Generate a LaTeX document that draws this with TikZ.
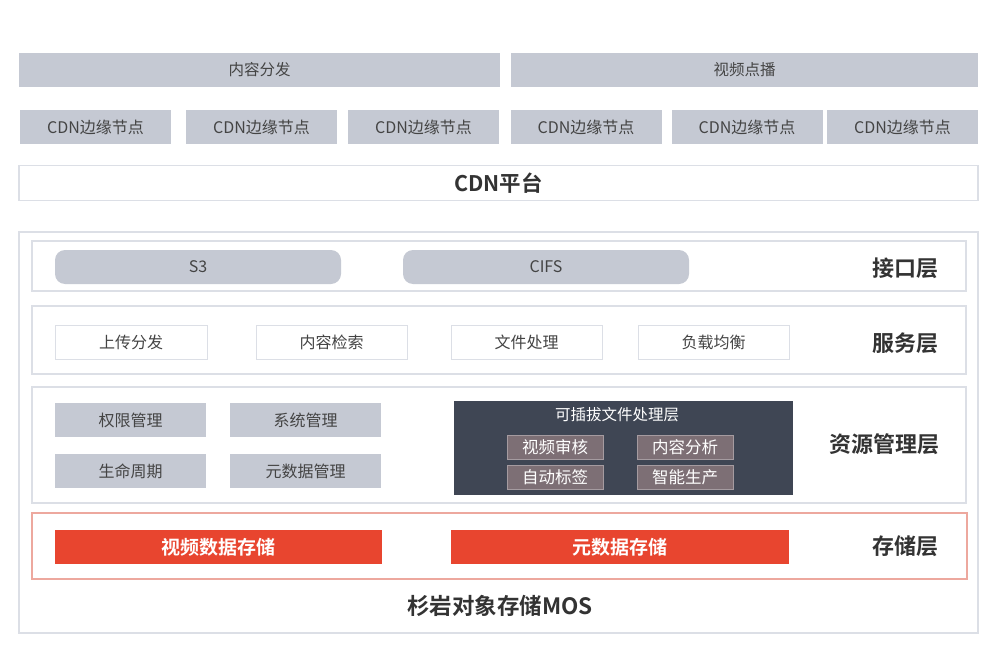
\documentclass[tikz,border=0pt]{standalone}
\usepackage{fontspec}
\setmainfont{Noto Sans CJK SC}
\newfontfamily\cjkb{Noto Sans CJK SC Bold}
\definecolor{gfill}{HTML}{C5C9D3}
\definecolor{lborder}{HTML}{DCDFE6}
\definecolor{tgray}{HTML}{444444}
\definecolor{dark}{HTML}{3F4654}
\definecolor{mauve}{HTML}{7D6F75}
\definecolor{mauveb}{HTML}{A59BA0}
\definecolor{red}{HTML}{E8452F}
\definecolor{redl}{HTML}{EDA89E}
\begin{document}
\begin{tikzpicture}[x=1pt,y=-1pt,
  base/.style={inner sep=0pt,outer sep=0pt,text=tgray},
  gbox/.style={base,fill=gfill,font=\fontsize{15.5}{17}\selectfont},
  cbox/.style={base,fill=gfill,font=\fontsize{16}{18}\selectfont},
  layer/.style={base,draw=lborder,line width=1.2pt,fill=white},
  wbox/.style={base,draw=lborder,line width=1pt,fill=white,font=\fontsize{16}{18}\selectfont},
  pill/.style={base,fill=gfill,rounded corners=10pt,font=\fontsize{16}{18}\selectfont},
  lab/.style={base,font=\cjkb\fontsize{22}{24}\selectfont,text=black!80},
  ibox/.style={base,fill=mauve,draw=mauveb,line width=0.8pt,text=white,font=\fontsize{16.5}{18}\selectfont},
  rbox/.style={base,fill=red,text=white,font=\cjkb\fontsize{19}{21}\selectfont},
]
\useasboundingbox (0,0) rectangle (1000,671);
\fill[white] (0,0) rectangle (1000,671);
% top
\node[gbox,minimum width=481,minimum height=34] (nr) at (259.5,70) {内容分发};
\node[gbox,minimum width=467,minimum height=34] (vod) at (744.5,70) {视频点播};
\node[cbox,minimum width=151,minimum height=34] (c1) at (95.5,127) {CDN边缘节点};
\node[cbox,minimum width=151,minimum height=34] (c2) at (261.5,127) {CDN边缘节点};
\node[cbox,minimum width=151,minimum height=34] (c3) at (423.5,127) {CDN边缘节点};
\node[cbox,minimum width=151,minimum height=34] (c4) at (586,127) {CDN边缘节点};
\node[cbox,minimum width=151,minimum height=34] (c5) at (747,127) {CDN边缘节点};
\node[cbox,minimum width=151,minimum height=34] (c6) at (902.5,127) {CDN边缘节点};
\node[layer,minimum width=959,minimum height=35,font=\cjkb\fontsize{21.5}{23}\selectfont,text=black!80] (cdn) at (498.5,183) {CDN平台};
% outer MOS
\node[layer,minimum width=959,minimum height=401] (mos) at (498.5,432.5) {};
\node[lab,font=\cjkb\fontsize{22.5}{24}\selectfont] (mosl) at (500,606) {杉岩对象存储MOS};
% interface layer
\node[layer,minimum width=934,minimum height=50] (if) at (499,266) {};
\node[pill,minimum width=286,minimum height=34] (s3) at (198,267) {S3};
\node[pill,minimum width=286,minimum height=34] (cifs) at (546,267) {CIFS};
\node[lab] (ifl) at (905,268) {接口层};
% service layer
\node[layer,minimum width=934,minimum height=68] (sv) at (499,340) {};
\node[wbox,minimum width=152,minimum height=34] (s1) at (131,342) {上传分发};
\node[wbox,minimum width=151,minimum height=34] (s2) at (331.5,342) {内容检索};
\node[wbox,minimum width=151,minimum height=34] (s3b) at (526.5,342) {文件处理};
\node[wbox,minimum width=151,minimum height=34] (s4) at (713.5,342) {负载均衡};
\node[lab] (svl) at (905,343) {服务层};
% resource layer
\node[layer,minimum width=934,minimum height=116] (rs) at (499,445) {};
\node[cbox,minimum width=151,minimum height=34] (r1) at (130.5,420) {权限管理};
\node[cbox,minimum width=151,minimum height=34] (r2) at (305.5,420) {系统管理};
\node[cbox,minimum width=151,minimum height=34] (r3) at (130.5,471) {生命周期};
\node[cbox,minimum width=151,minimum height=34] (r4) at (305.5,471) {元数据管理};
\node[base,fill=dark,minimum width=339,minimum height=94] (pl) at (623.5,448) {};
\node[base,text=white,font=\fontsize{15.5}{17}\selectfont] (plt) at (617,415) {可插拔文件处理层};
\node[ibox,minimum width=96,minimum height=24] (p1) at (555,447) {视频审核};
\node[ibox,minimum width=96,minimum height=24] (p2) at (685,447) {内容分析};
\node[ibox,minimum width=96,minimum height=24] (p3) at (555,477) {自动标签};
\node[ibox,minimum width=96,minimum height=24] (p4) at (685,477) {智能生产};
\node[lab] (rsl) at (884,444) {资源管理层};
% storage layer
\node[layer,draw=redl,minimum width=935,minimum height=66] (st) at (499.5,546) {};
\node[rbox,minimum width=327,minimum height=34] (st1) at (218.5,547) {视频数据存储};
\node[rbox,minimum width=338,minimum height=34] (st2) at (620,547) {元数据存储};
\node[lab] (stl) at (905,546) {存储层};
\end{tikzpicture}
\end{document}
